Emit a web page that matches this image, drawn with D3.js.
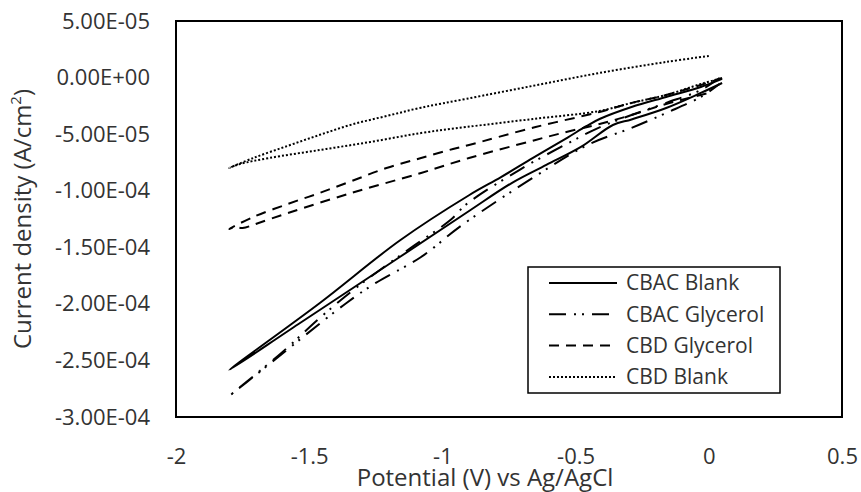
<!DOCTYPE html>
<html>
<head>
<meta charset="utf-8">
<script src="https://cdn.jsdelivr.net/npm/d3@7"></script>
<style>
  body { margin: 0; background: #fff; }
  text { font-family: "Open Sans", "Noto Sans", sans-serif; fill: #333; }
</style>
</head>
<body>
<div id="chart"></div>
<script>
// axis ticks
const xTicks = [-2, -1.5, -1, -0.5, 0, 0.5];
const yTicks = [5, 0, -5, -10, -15, -20, -25, -30]; // in 1e-5 A/cm2
const yTickLabels = ["5.00E-05", "0.00E+00", "-5.00E-05", "-1.00E-04", "-1.50E-04", "-2.00E-04", "-2.50E-04", "-3.00E-04"];

// series: potential (V) and current density (1e-5 A/cm2)
const cbacBlankV = [0.05, -0.03, -0.16, -0.29, -0.41, -0.46, -0.53, -0.66, -0.78, -0.90, -1.16, -1.46, -1.80,
                    -1.54, -1.16, -0.90, -0.74, -0.61, -0.48, -0.36, -0.29, -0.16, -0.03, 0.05];
const cbacBlankJ = [-0.12, -0.83, -1.71, -2.60, -3.66, -4.30, -5.30, -7.10, -8.80, -10.40, -14.40, -19.92, -25.84,
                    -21.78, -15.86, -11.79, -9.32, -7.72, -6.13, -4.19, -3.70, -2.69, -1.36, -0.48];

const cbacGlyV = [0.04, -0.03, -0.16, -0.29, -0.41, -0.52, -0.71, -0.91, -0.97, -1.13, -1.32, -1.46, -1.60, -1.80,
                  -1.71, -1.36, -1.25, -1.08, -0.93, -0.65, -0.45, -0.29, -0.16, -0.03, 0.04];
const cbacGlyJ = [-0.04, -1.10, -2.24, -3.31, -4.40, -5.70, -8.15, -11.20, -12.59, -15.24, -18.51, -21.24, -24.25, -28.14,
                  -26.46, -19.92, -18.15, -15.86, -13.10, -8.70, -5.90, -4.45, -3.13, -1.71, -0.57];

const cbdGlyV = [0.05, -0.03, -0.16, -0.29, -0.41, -0.65, -0.90, -0.96, -1.08, -1.21, -1.34, -1.46, -1.58, -1.71, -1.80,
                 -1.78, -1.75, -1.69, -1.58, -1.34, -1.08, -0.90, -0.65, -0.52, -0.41, -0.29, -0.16, 0.00];
const cbdGlyJ = [-0.04, -0.65, -1.54, -2.24, -3.04, -4.37, -5.96, -6.31, -7.11, -7.99, -9.14, -10.19, -11.17, -12.32, -13.38,
                 -13.20, -13.29, -12.85, -11.97, -10.19, -8.43, -7.11, -5.51, -4.72, -4.10, -3.31, -2.33, -1.36];

const cbdBlankV = [0.00, -0.16, -0.41, -0.66, -0.91, -1.08, -1.21, -1.34, -1.46, -1.58, -1.71, -1.80,
                   -1.76, -1.65, -1.46, -1.27, -1.08, -0.91, -0.66, -0.41, -0.29, -0.16, -0.03, 0.05];
const cbdBlankJ = [1.91, 1.38, 0.41, -0.73, -1.88, -2.66, -3.40, -4.15, -5.06, -6.03, -7.11, -7.99,
                   -7.64, -7.11, -6.40, -5.69, -4.90, -4.37, -3.66, -2.95, -2.24, -1.54, -0.57, -0.04];

const seriesNames = ["CBAC Blank", "CBAC Glycerol", "CBD Glycerol", "CBD Blank"];

const series = [
    { name: seriesNames[0], v: cbacBlankV, j: cbacBlankJ, dash: null },
    { name: seriesNames[1], v: cbacGlyV, j: cbacGlyJ, dash: "17 8 2 6 2 8" },
    { name: seriesNames[2], v: cbdGlyV, j: cbdGlyJ, dash: "10 7" },
    { name: seriesNames[3], v: cbdBlankV, j: cbdBlankJ, dash: "2 2" },
];

const W = 861, H = 492;
const margin = { top: 21, right: 19, bottom: 75, left: 176 };
const width = W - margin.left - margin.right;
const height = H - margin.top - margin.bottom;

const svg = d3.select("#chart").append("svg")
    .attr("width", W)
    .attr("height", H);

const g = svg.append("g")
    .attr("transform", "translate(" + margin.left + "," + margin.top + ")");

const x = d3.scaleLinear().domain([-2, 0.5]).range([0, width]);
const y = d3.scaleLinear().domain([-30, 5]).range([height, 0]);

// x axis labels
const xAxis = g.append("g")
    .attr("transform", "translate(0," + height + ")")
    .call(d3.axisBottom(x).tickValues(xTicks).tickSize(0).tickPadding(31).tickFormat(d => String(d)));
xAxis.select(".domain").remove();
xAxis.selectAll("text").style("font-size", "22px").attr("fill", "#333");

// y axis labels
const yAxis = g.append("g")
    .call(d3.axisLeft(y).tickValues(yTicks).tickSize(0).tickPadding(26).tickFormat((d, i) => yTickLabels[i]));
yAxis.select(".domain").remove();
yAxis.selectAll("text").style("font-size", "22px").attr("fill", "#333");

// plot frame
g.append("rect")
    .attr("width", width)
    .attr("height", height)
    .attr("fill", "none")
    .attr("stroke", "#000")
    .attr("stroke-width", 2);

const line = d3.line()
    .curve(d3.curveCatmullRom.alpha(0.5))
    .x(d => x(d[0]))
    .y(d => y(d[1]));

for (const s of series) {
    g.append("path")
        .datum(s.v.map((v, i) => [v, s.j[i]]))
        .attr("fill", "none")
        .attr("stroke", "#000")
        .attr("stroke-width", 2)
        .attr("stroke-dasharray", s.dash)
        .attr("d", line);
}

// axis titles
svg.append("text")
    .attr("x", 485)
    .attr("y", 486)
    .attr("text-anchor", "middle")
    .style("font-size", "24px")
    .text("Potential (V) vs Ag/AgCl");

const yTitle = svg.append("text")
    .attr("transform", "translate(31,219) rotate(-90)")
    .attr("text-anchor", "middle")
    .style("font-size", "24px");
yTitle.append("tspan").text("Current density (A/cm");
yTitle.append("tspan").attr("baseline-shift", "super").style("font-size", "15px").text("2");
yTitle.append("tspan").text(")");

// legend
const legend = svg.append("g").attr("transform", "translate(528,267)");
legend.append("rect")
    .attr("width", 252)
    .attr("height", 126)
    .attr("fill", "#fff")
    .attr("stroke", "#000")
    .attr("stroke-width", 1.5);

const rows = legend.selectAll("g.row")
    .data(series)
    .enter()
    .append("g")
    .attr("class", "row")
    .attr("transform", (_, i) => "translate(0," + (16 + i * 31.3) + ")");

rows.append("line")
    .attr("x1", 21).attr("x2", 89)
    .attr("stroke", "#000")
    .attr("stroke-width", 2)
    .attr("stroke-dasharray", d => d.dash);

rows.append("text")
    .attr("x", 98)
    .attr("dy", "0.35em")
    .style("font-size", "21px")
    .text(d => d.name);
</script>
</body>
</html>
